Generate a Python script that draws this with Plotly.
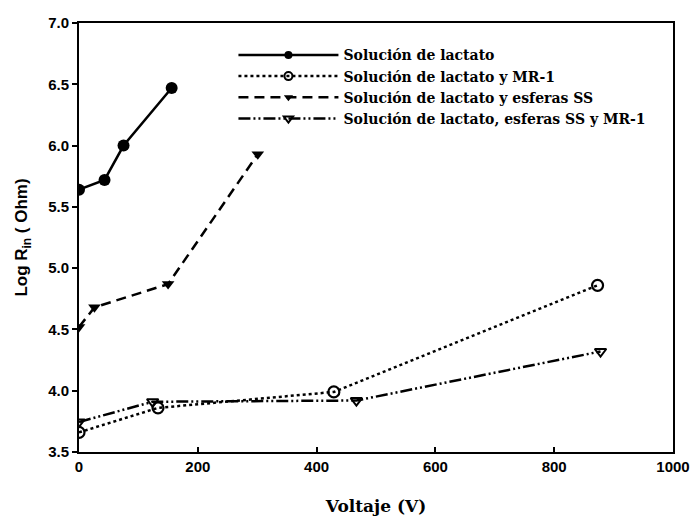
import plotly.graph_objects as go

names = ["Solución de lactato", "Solución de lactato y MR-1",
         "Solución de lactato y esferas SS", "Solución de lactato, esferas SS y MR-1"]
x1 = [0, 43, 75, 156]
y1 = [5.64, 5.72, 6.00, 6.47]
x2 = [0, 133, 429, 873]
y2 = [3.66, 3.86, 3.99, 4.86]
x3 = [0, 26, 150, 301]
y3 = [4.52, 4.68, 4.87, 5.93]
x4 = [0, 124, 467, 878]
y4 = [3.745, 3.91, 3.92, 4.32]
xticks = [0, 200, 400, 600, 800, 1000]
yticks = [3.5, 4.0, 4.5, 5.0, 5.5, 6.0, 6.5, 7.0]

styles = [
    dict(dash="solid", symbol="circle", size=12, lw=0),
    dict(dash="dot", symbol="circle-open", size=11, lw=2.2),
    dict(dash="10px,6px", symbol="triangle-down", size=11, lw=0),
    dict(dash="12px,3px,2px,3px,2px,3px", symbol="triangle-down-open", size=10, lw=2),
]
xs = [x1, x2, x3, x4]
ys = [y1, y2, y3, y4]

fig = go.Figure()
for i in range(4):
    s = styles[i]
    fig.add_trace(go.Scatter(x=xs[i], y=ys[i], name=names[i], mode="lines+markers",
                             showlegend=False,
                             line=dict(color="black", width=2.5, dash=s["dash"]),
                             marker=dict(symbol=s["symbol"], size=s["size"], color="black",
                                         line=dict(width=s["lw"], color="black"))))
# legend entries with smaller sample markers
for i in range(4):
    s = styles[i]
    fig.add_trace(go.Scatter(x=[None], y=[None], name=names[i], mode="lines+markers",
                             line=dict(color="black", width=2.5, dash=s["dash"]),
                             marker=dict(symbol=s["symbol"], size=8, color="black",
                                         line=dict(width=min(s["lw"], 2), color="black"))))

serif = "DejaVu Serif, serif"
sans = "Liberation Sans, Arial, sans-serif"

fig.update_layout(
    width=696, height=522,
    paper_bgcolor="white", plot_bgcolor="white",
    margin=dict(l=79, r=23, t=23, b=70, autoexpand=False),
    showlegend=True,
    legend=dict(x=0.26, y=0.962, xanchor="left", yanchor="top",
                bgcolor="rgba(0,0,0,0)", itemwidth=100,
                font=dict(family=serif, size=14, color="black", weight="bold"),
                tracegroupgap=0),
    font=dict(family=sans, color="black"),
)
fig.update_xaxes(range=[0, 1000], tickvals=xticks, automargin=False,
                 ticktext=["<b>%d</b>" % v for v in xticks],
                 ticks="inside", ticklen=5, tickwidth=1.5, tickcolor="black",
                 showline=True, linecolor="black", linewidth=2, mirror=True,
                 showgrid=False, zeroline=False,
                 tickfont=dict(family=sans, size=15, color="black"),
                 title=dict(text="<b>Voltaje (V)</b>", standoff=26,
                            font=dict(family=serif, size=17, color="black")))
fig.update_yaxes(range=[3.5, 7.0], tickvals=yticks, automargin=False,
                 ticktext=["<b>%.1f</b>" % v for v in yticks],
                 ticks="outside", ticklen=5, tickwidth=1.5, tickcolor="black",
                 showline=True, linecolor="black", linewidth=2, mirror=True,
                 showgrid=False, zeroline=False,
                 tickfont=dict(family=sans, size=15, color="black"),
                 title=dict(text="<b>Log R<sub>in</sub> ( Ohm)</b>", standoff=16,
                            font=dict(family=sans, size=17, color="black")))

fig.write_html("out.html")
